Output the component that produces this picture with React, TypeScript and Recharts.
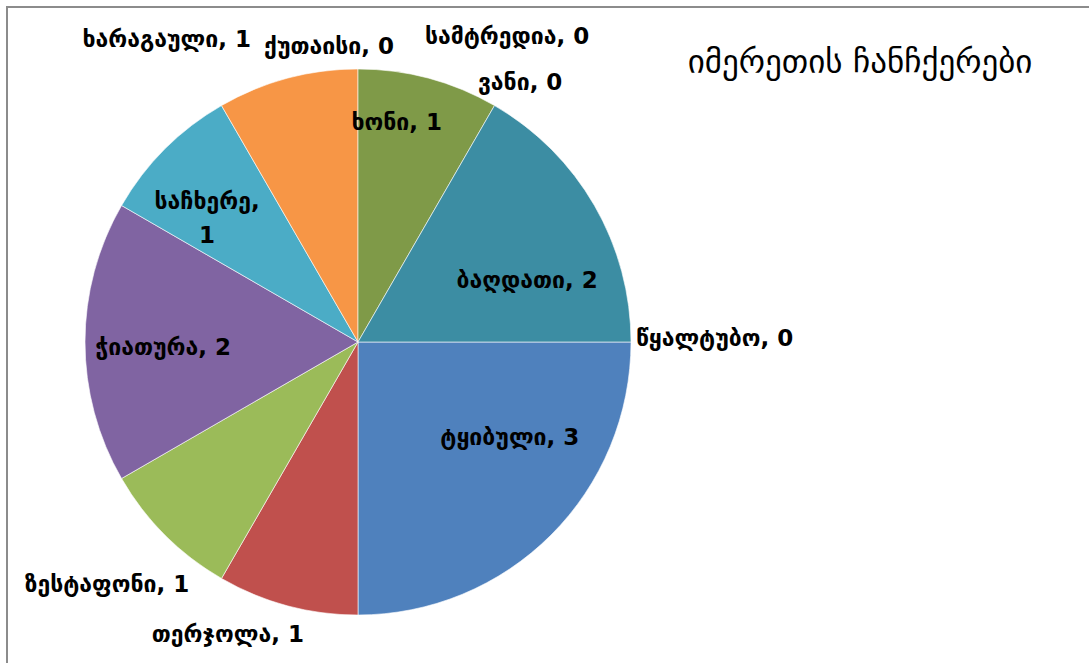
import React from "react";
import { PieChart, Pie, Cell } from "recharts";

// imereti waterfalls, clockwise from 3 o'clock
const districts = [
  "ტყიბული",
  "თერჯოლა",
  "ზესტაფონი",
  "ჭიათურა",
  "საჩხერე",
  "ხარაგაული",
  "ქუთაისი",
  "სამტრედია",
  "ხონი",
  "ვანი",
  "ბაღდათი",
  "წყალტუბო",
];

const waterfalls = [3, 1, 1, 2, 1, 1, 0, 0, 1, 0, 2, 0];

const COLORS = [
  "#4F81BD",
  "#C0504D",
  "#9BBB59",
  "#8064A2",
  "#4BACC6",
  "#F79646",
  "#2C4D75",
  "#772C2A",
  "#7F9A48",
  "#4D3B62",
  "#3C8DA3",
  "#B65708",
];

const chartData = districts.map((name, i) => ({ name, value: waterfalls[i] }));

// label nudges (degrees, pixels from center) to mimic excel best fit
const labelPlace: Record<string, { da: number; dist: number; anchor?: string }> = {
  "ტყიბული": { da: -13, dist: 179 },
  "თერჯოლა": { da: 9, dist: 320 },
  "ზესტაფონი": { da: 1, dist: 349 },
  "ჭიათურა": { da: -1.5, dist: 195 },
  "საჩხერე": { da: -5, dist: 197 },
  "ხარაგაული": { da: -17.3, dist: 358 },
  "ქუთაისი": { da: -5.6, dist: 297 },
  "სამტრედია": { da: 26, dist: 340 },
  "ხონი": { da: -5, dist: 223 },
  "ვანი": { da: 2, dist: 306 },
  "ბაღდათი": { da: 10, dist: 180 },
  "წყალტუბო": { da: -0.8, dist: 278, anchor: "start" },
};

const RAD = Math.PI / 180;

const renderLabel = (props: any) => {
  const { cx, cy, midAngle, name, value } = props;
  const p = labelPlace[name] || { da: 0, dist: 200 };
  // recharts angles go counter-clockwise, our nudges are clockwise
  const a = midAngle - p.da;
  const x = cx + Math.cos(-a * RAD) * p.dist;
  const y = cy + Math.sin(-a * RAD) * p.dist;
  const common = {
    fill: "#000",
    fontFamily: "DejaVu Sans",
    fontWeight: 700,
    fontSize: 23,
  };
  if (name === "საჩხერე") {
    return (
      <text x={x} y={y} textAnchor="middle" {...common}>
        <tspan x={x} dy={-6}>{name},</tspan>
        <tspan x={x} dy={34}>{value}</tspan>
      </text>
    );
  }
  return (
    <text
      x={x}
      y={y}
      textAnchor={p.anchor || "middle"}
      dominantBaseline="central"
      {...common}
    >
      {`${name}, ${value}`}
    </text>
  );
};

export default function App() {
  return (
    <div
      style={{
        position: "fixed",
        left: 0,
        top: 0,
        width: 1089,
        height: 663,
        overflow: "hidden",
        background: "#fff",
      }}
    >
      <div
        style={{
          position: "absolute",
          left: 6,
          top: 6,
          width: 1200,
          height: 800,
          borderTop: "2px solid #8c8c8c",
          borderLeft: "2px solid #8c8c8c",
        }}
      />
      <div
        style={{
          position: "absolute",
          left: 640,
          top: 42,
          width: 440,
          textAlign: "center",
          fontFamily: "DejaVu Sans",
          fontSize: 33,
          color: "#000",
        }}
      >
        იმერეთის ჩანჩქერები
      </div>
      <div style={{ position: "absolute", left: 0, top: 0 }}>
        <PieChart
          width={1089}
          height={663}
          margin={{ top: 0, right: 0, bottom: 0, left: 0 }}
        >
          <Pie
            data={chartData}
            dataKey="value"
            nameKey="name"
            cx={358}
            cy={342}
            outerRadius={273}
            startAngle={0}
            endAngle={-360}
            stroke="#fff"
            strokeWidth={0.6}
            label={renderLabel}
            labelLine={false}
            isAnimationActive={false}
          >
            {chartData.map((entry, index) => (
              <Cell key={`cell-${index}`} fill={COLORS[index % COLORS.length]} />
            ))}
          </Pie>
        </PieChart>
      </div>
    </div>
  );
}
